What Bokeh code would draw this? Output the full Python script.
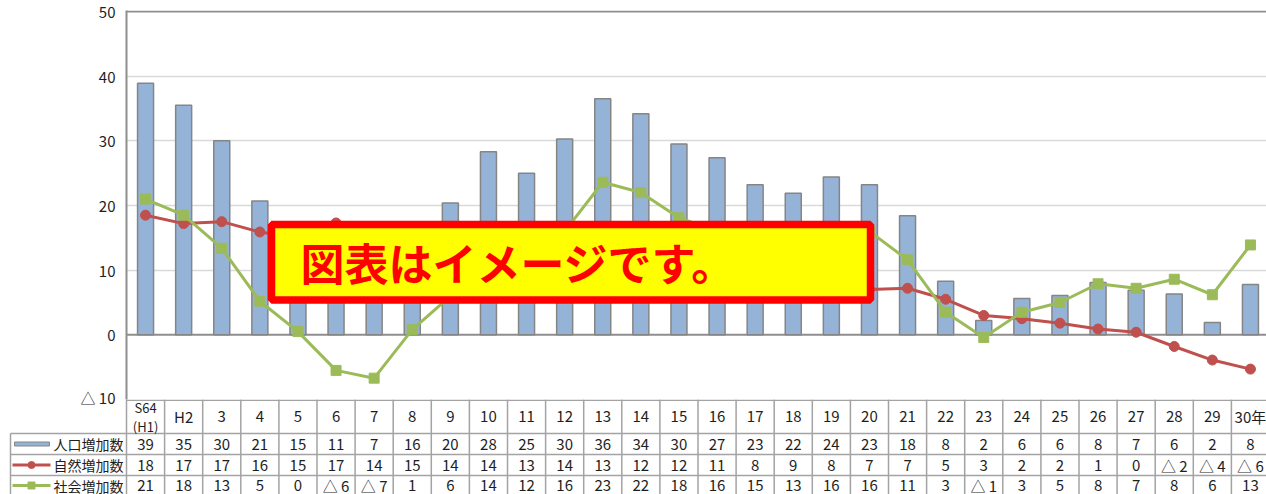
from bokeh.plotting import figure
from bokeh.models import Range1d, FixedTicker, Span, BoxAnnotation, Label, ColumnDataSource
from bokeh.embed import file_html
from bokeh.resources import INLINE
from bokeh.core.properties import value

# ---------------- data ----------------
categories = ["S64\n(H1)", "H2", "3", "4", "5", "6", "7", "8", "9", "10",
              "11", "12", "13", "14", "15", "16", "17", "18", "19", "20",
              "21", "22", "23", "24", "25", "26", "27", "28", "29", "30年"]

# plotted values
pop_increase = [38.9, 35.5, 30.0, 20.7, 15.0, 11.0, 7.0, 16.0, 20.4, 28.3,
                25.0, 30.3, 36.5, 34.2, 29.5, 27.4, 23.2, 21.9, 24.4, 23.2,
                18.4, 8.3, 2.2, 5.6, 6.1, 8.1, 6.9, 6.3, 1.9, 7.8]
natural_increase = [18.5, 17.2, 17.5, 15.9, 15.0, 17.3, 14.0, 15.0, 14.0, 14.0,
                    13.0, 14.0, 13.0, 12.0, 12.0, 11.0, 8.0, 9.0, 8.0, 7.0,
                    7.2, 5.5, 3.0, 2.5, 1.8, 0.9, 0.4, -1.8, -3.9, -5.3]
social_increase = [21.0, 18.5, 13.4, 5.2, 0.5, -5.5, -6.7, 0.8, 6.0, 14.0,
                   12.0, 16.0, 23.6, 22.0, 18.1, 16.0, 15.0, 13.0, 16.0, 16.0,
                   11.6, 3.5, -0.4, 3.5, 5.0, 7.9, 7.2, 8.6, 6.2, 13.9]

# values printed in the data table
pop_table = [39, 35, 30, 21, 15, 11, 7, 16, 20, 28, 25, 30, 36, 34, 30, 27, 23, 22, 24, 23,
             18, 8, 2, 6, 6, 8, 7, 6, 2, 8]
natural_table = [18, 17, 17, 16, 15, 17, 14, 15, 14, 14, 13, 14, 13, 12, 12, 11, 8, 9, 8, 7,
                 7, 5, 3, 2, 2, 1, 0, -2, -4, -6]
social_table = [21, 18, 13, 5, 0, -6, -7, 1, 6, 14, 12, 16, 23, 22, 18, 16, 15, 13, 16, 16,
                11, 3, -1, 3, 5, 8, 7, 8, 6, 13]

series_names = ["人口増加数", "自然増加数", "社会増加数"]
y_ticks = [-10, 0, 10, 20, 30, 40, 50]

# ---------------- styling ----------------
FONT = "Noto Sans CJK JP"
BAR_COLOR = "#95B3D7"
BAR_LINE = "#858585"
NAT_COLOR = "#C0504D"
SOC_COLOR = "#9BBB59"
AXIS_GRAY = "#8E8E8E"
TABLE_GRAY = "#A3A3A3"
TEXT = "#1e1e1e"

W = 1266
LEFT = 126          # px from figure left edge to plot frame
CAT_PX = 38.1       # px per category
X_END = (W - LEFT) / CAT_PX
PX_PER_UNIT = 388 / 60.0


def px(v):
    """screen x (px) -> category units, for decorations"""
    return (v - LEFT) / CAT_PX


xs = [i + 0.5 for i in range(len(categories))]


def fmt(v):
    return f"△ {abs(v)}" if v < 0 else str(v)


# ---------------- chart ----------------
p = figure(width=W, height=407, x_range=Range1d(0, X_END),
           y_range=Range1d(-10, 50 + 1 / PX_PER_UNIT),
           output_backend="svg", toolbar_location=None, x_axis_location=None,
           min_border_left=LEFT, min_border_right=0, min_border_top=10, min_border_bottom=8)
p.outline_line_color = None
p.xgrid.grid_line_color = None
p.ygrid.ticker = FixedTicker(ticks=[10, 20, 30, 40])
p.ygrid.grid_line_color = "#D9D9D9"
p.ygrid.grid_line_width = 1.5

ax = p.yaxis[0]
ax.ticker = FixedTicker(ticks=y_ticks)
ax.major_label_overrides = {-10: "△ 10"}
ax.axis_line_color = AXIS_GRAY
ax.axis_line_width = 2
ax.major_tick_line_color = None
ax.minor_tick_line_color = None
ax.major_tick_out = 0
ax.major_label_standoff = 11
ax.major_label_text_font = FONT
ax.major_label_text_font_size = "15px"
ax.major_label_text_color = TEXT

p.add_layout(Span(location=0, dimension="width", line_color=AXIS_GRAY, line_width=2, level="underlay"))
p.add_layout(Span(location=50, dimension="width", line_color=AXIS_GRAY, line_width=2, level="underlay"))

src = ColumnDataSource(dict(x=xs, pop=pop_increase, nat=natural_increase, soc=social_increase))
p.vbar(x="x", top="pop", bottom=0, width=0.42, source=src,
       fill_color=BAR_COLOR, line_color=BAR_LINE, line_width=1.5)
p.line("x", "nat", source=src, line_color=NAT_COLOR, line_width=3)
p.scatter("x", "nat", source=src, marker="circle", size=10, fill_color=NAT_COLOR, line_color=NAT_COLOR)
p.line("x", "soc", source=src, line_color=SOC_COLOR, line_width=3)
p.scatter("x", "soc", source=src, marker="square", size=10, fill_color=SOC_COLOR, line_color=SOC_COLOR)

# "image only" notice overlay
p.add_layout(BoxAnnotation(left=px(271), right=px(870), bottom=5.37, top=17.07,
                           fill_color="#FFFF00", fill_alpha=1.0,
                           line_color="#FF0000", line_width=7.5, line_alpha=1.0))
p.add_layout(Label(x=px(300), y=11.2, text="図表はイメージです。", text_font=FONT,
                   text_font_size="44px", text_font_style="bold", text_color="#FF0000",
                   text_align="left", text_baseline="middle"))

# ---------------- data table ----------------
H2 = 95
t = figure(width=W, height=H2, x_range=Range1d(-LEFT / CAT_PX, X_END), y_range=Range1d(0, H2),
           output_backend="svg", toolbar_location=None, x_axis_location=None, y_axis_location=None,
           min_border=0, margin=(-8, 0, 0, 0))
t.outline_line_color = None
t.grid.grid_line_color = None
t.background_fill_alpha = 0
t.border_fill_alpha = 0

label_left = px(10)   # left edge of the legend column
n = len(categories)
hy = [94.3, 61, 40, 19]
# horizontal lines
t.segment(x0=[0, label_left, label_left, label_left], x1=[X_END] * 4,
          y0=hy, y1=hy, line_color=TABLE_GRAY, line_width=1.5)
# vertical lines
t.segment(x0=list(range(n)), x1=list(range(n)), y0=[0] * n, y1=[H2] * n,
          line_color=TABLE_GRAY, line_width=1.5)
t.segment(x0=[label_left], x1=[label_left], y0=[0], y1=[61], line_color=TABLE_GRAY, line_width=1.5)

hdr = ColumnDataSource(dict(x=xs, y=[78] * n, text=categories,
                            size=["13px" if "\n" in c else "15px" for c in categories]))
t.text(x="x", y="y", text="text", source=hdr, text_font=value(FONT), text_font_size="size",
       text_align="center", text_baseline="middle", text_color=TEXT, text_line_height=1.0)

row_y = [50.5, 29.5, 9.0]
for vals, ry in zip([pop_table, natural_table, social_table], row_y):
    t.text(x=xs, y=[ry] * n, text=[fmt(v) for v in vals], text_font=value(FONT),
           text_font_size="15px", text_align="center", text_baseline="middle", text_color=TEXT)

# legend column
t.text(x=[px(53)] * 3, y=row_y, text=series_names, text_font=value(FONT),
       text_font_size="14px", text_align="left", text_baseline="middle", text_color=TEXT)
t.rect(x=[px(31.5)], y=[row_y[0]], width=35 / CAT_PX, height=4,
       fill_color=BAR_COLOR, line_color=BAR_LINE, line_width=1)
t.segment(x0=[px(12)] * 2, x1=[px(50)] * 2, y0=row_y[1:], y1=row_y[1:],
          line_color=[NAT_COLOR, SOC_COLOR], line_width=3)
t.scatter(x=[px(31)], y=[row_y[1]], marker="circle", size=7, color=NAT_COLOR)
t.scatter(x=[px(31)], y=[row_y[2]], marker="square", size=7, color=SOC_COLOR)

open("out.html", "w").write(file_html([p, t], INLINE))
